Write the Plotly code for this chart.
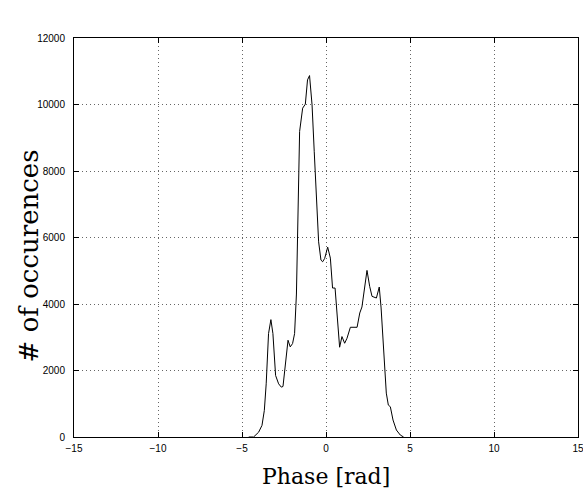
import plotly.graph_objects as go

phase = [-4.6, -4.31, -4.01, -3.81, -3.67, -3.56, -3.42, -3.28, -3.16, -3.00,
         -2.82, -2.66, -2.56, -2.42, -2.26, -2.13, -1.99, -1.87, -1.76, -1.57,
         -1.39, -1.23, -1.10, -0.98, -0.83, -0.70, -0.54, -0.44, -0.30, -0.20,
         -0.08, 0.10, 0.26, 0.39, 0.54, 0.69, 0.81, 0.95, 1.11, 1.25,
         1.45, 1.85, 2.01, 2.14, 2.28, 2.44, 2.60, 2.74, 3.00, 3.17,
         3.28, 3.43, 3.59, 3.71, 3.83, 3.99, 4.19, 4.42, 4.62]
counts = [0, 0, 145, 350, 800, 1600, 3110, 3530, 3110, 1850,
          1600, 1500, 1520, 2210, 2910, 2710, 2810, 3110, 4300, 9190,
          9890, 10010, 10740, 10870, 9990, 8580, 6880, 5870, 5320, 5270,
          5370, 5710, 5380, 4480, 4480, 3520, 2700, 3020, 2820, 2970,
          3300, 3300, 3730, 3910, 4380, 5010, 4530, 4230, 4180, 4510,
          3880, 2720, 1320, 960, 910, 510, 210, 60, 0]

x_ticks = [-15, -10, -5, 0, 5, 10, 15]
x_labels = ["\u221215", "\u221210", "\u22125", "0", "5", "10", "15"]
y_ticks = [0, 2000, 4000, 6000, 8000, 10000, 12000]
y_labels = ["0", "2000", "4000", "6000", "8000", "10000", "12000"]

fig = go.Figure()
fig.add_trace(go.Scatter(x=phase, y=counts, mode="lines",
                         line=dict(color="black", width=1), showlegend=False))

axis_common = dict(
    showline=True, linecolor="black", linewidth=1, mirror="ticks",
    ticks="inside", ticklen=5, tickcolor="black", tickwidth=1,
    showgrid=True, gridcolor="#666666", gridwidth=1, griddash="1px,3px",
    zeroline=False, ticklabeloverflow="allow", automargin=False,
    tickfont=dict(family="Liberation Sans, Arial", size=10, color="black"),
)

fig.update_xaxes(range=[-15, 15], tickvals=x_ticks, ticktext=x_labels,
                 ticklabelstandoff=2, **axis_common)
fig.update_yaxes(range=[0, 12000], tickvals=y_ticks, ticktext=y_labels,
                 ticklabelstandoff=6, **axis_common)

fig.add_annotation(text="Phase [rad]", xref="paper", yref="paper",
                   x=0.5, y=-0.1, xanchor="center", yanchor="middle",
                   showarrow=False,
                   font=dict(family="DejaVu Serif", size=22, color="black"))
fig.add_annotation(text="# of occurences", xref="paper", yref="paper",
                   x=-0.089, y=0.453, xanchor="center", yanchor="middle",
                   textangle=-90, showarrow=False,
                   font=dict(family="DejaVu Serif", size=26, color="black"))

fig.update_layout(
    width=583, height=489,
    margin=dict(l=74, r=5, t=38, b=52),
    paper_bgcolor="white", plot_bgcolor="white",
)

fig.write_html("out.html")
